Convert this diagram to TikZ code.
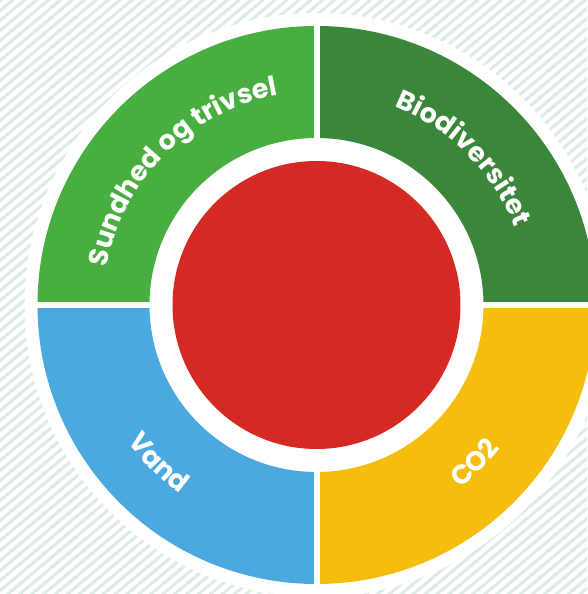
\documentclass[tikz,border=0pt]{standalone}
\usepackage{xcolor}
\usepackage{fontspec}
\setmainfont{Poppins}
\usepackage{tikz}
\usetikzlibrary{decorations.text}

\definecolor{stripe}{RGB}{221,236,227}
\definecolor{health}{RGB}{72,174,64}
\definecolor{biodiv}{RGB}{58,134,58}
\definecolor{water}{RGB}{76,169,224}
\definecolor{carbon}{RGB}{245,190,14}
\definecolor{core}{RGB}{213,41,36}

\begin{document}
\begin{tikzpicture}[x=1pt, y=1pt]
    \tikzstyle{ringtext} = [decorate, decoration={text along path, text align=center, text color=white}]
    \tikzstyle{gap} = [white, line width=6pt]
    \useasboundingbox (-316.5,-289) rectangle (270.5,305);
    \coordinate (C) at (0,0);

    % striped backdrop
    \begin{scope}
        \clip (-316.5,-289) rectangle (270.5,305);
        \foreach \k in {-53,...,58}
            \draw [stripe, line width=3pt] (-330,{-277+10*\k}) -- (290,{243+10*\k});
    \end{scope}

    \fill [white] (C) circle (292);

    % the four quarters
    \foreach \a/\col in {0/biodiv, 90/health, 180/water, 270/carbon}
        \fill [\col] (\a:279) arc [start angle=\a, delta angle=90, radius=279]
            -- ({\a+90}:167) arc [start angle=\a+90, delta angle=-90, radius=167] -- cycle;

    \draw [gap] (-285,0) -- (285,0);
    \draw [gap] (0,-285) -- (0,290);

    \node [circle, fill=core, minimum size=288pt, inner sep=0pt] (core) at (C) {};

    % labels on the ring
    \path [ringtext, decoration={text={|\bfseries\fontsize{27}{27}\selectfont|Sundhed og trivsel}}]
        (180:213) arc [start angle=180, end angle=90, radius=213];
    \path [ringtext, decoration={text={|\bfseries\fontsize{27}{27}\selectfont|Biodiversitet}}]
        (90:213) arc [start angle=90, end angle=0, radius=213];
    \path [ringtext, decoration={text={|\bfseries\fontsize{27}{27}\selectfont|Vand}}]
        (180:233) arc [start angle=180, end angle=270, radius=233];
    \path [ringtext, decoration={text={|\bfseries\fontsize{27}{27}\selectfont|CO2}}]
        (270:233) arc [start angle=270, end angle=360, radius=233];
\end{tikzpicture}
\end{document}
